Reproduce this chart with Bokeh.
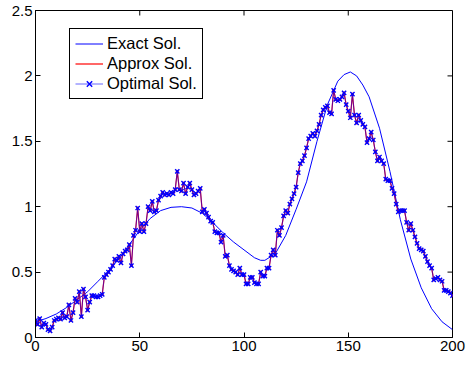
import math
from bokeh.plotting import figure
from bokeh.models import Legend, LegendItem, FixedTicker, Range1d, NumeralTickFormatter
from bokeh.embed import file_html
from bokeh.resources import INLINE

x_ticks = [0, 50, 100, 150, 200]
y_ticks = [0, 0.5, 1, 1.5, 2, 2.5]

x_exact = [0, 5, 10, 15, 20, 25, 30, 35, 40, 45, 50, 55, 60, 65, 70, 75, 80, 85, 90, 95,
           100, 105, 108, 110, 115, 120, 125, 130, 135, 140, 145, 148, 151, 154, 157,
           160, 165, 170, 175, 180, 185, 190, 195, 200]
y_exact = [0.12, 0.145, 0.18, 0.23, 0.29, 0.35, 0.43, 0.51, 0.60, 0.71, 0.82, 0.91, 0.97, 0.995,
           1.0, 0.99, 0.95, 0.88, 0.80, 0.73, 0.67, 0.61, 0.59, 0.59, 0.64, 0.78, 0.98, 1.19,
           1.50, 1.78, 1.96, 2.01, 2.03, 2.00, 1.93, 1.84, 1.60, 1.27, 0.90, 0.60, 0.38, 0.22,
           0.12, 0.06]

x_opt = list(range(201))
y_opt = [
    0.13, 0.10, 0.145, 0.08, 0.11, 0.10, 0.06, 0.05, 0.08, 0.13,
    0.14, 0.15, 0.14, 0.19, 0.15, 0.16, 0.25, 0.13, 0.19, 0.30,
    0.27, 0.35, 0.16, 0.37, 0.31, 0.21, 0.27, 0.32, 0.32, 0.31,
    0.31, 0.32, 0.33, 0.46, 0.48, 0.50, 0.52, 0.55, 0.60, 0.59,
    0.62, 0.57, 0.64, 0.66, 0.67, 0.71, 0.55, 0.78, 0.82, 0.99,
    0.81, 0.87, 0.81, 0.87, 1.00, 0.97, 1.04, 0.96, 0.97, 1.05,
    1.08, 1.11, 1.09, 1.10, 1.09, 1.11, 1.10, 1.13, 1.27, 1.13,
    1.12, 1.18, 1.10, 1.15, 1.18, 1.13, 1.09, 1.10, 1.12, 1.14,
    0.96, 0.98, 0.95, 0.92, 0.89, 0.88, 0.81, 0.80, 0.80, 0.73,
    0.78, 0.62, 0.63, 0.55, 0.52, 0.51, 0.50, 0.48, 0.53, 0.48,
    0.48, 0.41, 0.41, 0.46, 0.46, 0.42, 0.41, 0.41, 0.50, 0.47,
    0.47, 0.53, 0.53, 0.63, 0.67, 0.63, 0.82, 0.78, 0.84, 0.93,
    0.97, 0.95, 1.02, 1.06, 1.10, 1.15, 1.26, 1.33, 1.35, 1.39,
    1.45, 1.52, 1.54, 1.56, 1.54, 1.58, 1.63, 1.70, 1.74, 1.76,
    1.77, 1.72, 1.71, 1.89, 1.82, 1.81, 1.82, 1.84, 1.87, 1.78,
    1.73, 1.68, 1.86, 1.70, 1.64, 1.70, 1.66, 1.63, 1.61, 1.49,
    1.52, 1.57, 1.51, 1.42, 1.35, 1.38, 1.35, 1.33, 1.21, 1.20,
    1.20, 1.14, 1.10, 1.02, 0.96, 0.97, 0.97, 0.97, 0.88, 0.82,
    0.87, 0.82, 0.77, 0.72, 0.68, 0.67, 0.66, 0.62, 0.58, 0.55,
    0.53, 0.44, 0.45, 0.46, 0.44, 0.43, 0.36, 0.36, 0.35, 0.34,
    0.32]
y_approx = list(y_opt)

FONT = "Liberation Sans"

p = figure(width=468, height=366, x_range=Range1d(0, 200), y_range=Range1d(0, 2.5),
           output_backend="svg", toolbar_location=None,
           min_border_left=35, min_border_right=16, min_border_top=10, min_border_bottom=29)
p.xgrid.visible = False
p.ygrid.visible = False
p.outline_line_color = "black"
p.outline_line_alpha = 1
p.outline_line_width = 1
p.background_fill_color = "white"
p.border_fill_color = "white"

def style_axis(ax, ticks):
    ax.ticker = FixedTicker(ticks=ticks)
    ax.major_tick_in = 5
    ax.major_tick_out = 0
    ax.minor_tick_line_color = None
    ax.axis_line_color = "black"
    ax.major_tick_line_color = "black"
    ax.major_label_text_font = FONT
    ax.major_label_text_color = "black"
    ax.major_label_standoff = 3
    ax.major_label_text_font_size = "15px"
    ax.formatter = NumeralTickFormatter(format="0.[0]")

style_axis(p.xaxis[0], x_ticks)
style_axis(p.yaxis[0], y_ticks)

# inward tick marks on the top and right edges of the box
p.ray(x=x_ticks, y=[2.5] * len(x_ticks), length=5, length_units="screen",
      angle=-math.pi / 2, line_color="black", line_width=1)
p.ray(x=[200] * len(y_ticks), y=y_ticks, length=5, length_units="screen",
      angle=math.pi, line_color="black", line_width=1)

r_exact = p.line(x_exact, y_exact, line_color="#0000ff", line_width=1)
r_app_l = p.line(x_opt, y_approx, line_color="#ff0000", line_width=1.2)
p.scatter(x_opt, y_approx, marker="circle", size=2, fill_color="#ff0000",
          line_color="#ff0000")
r_opt_l = p.line(x_opt, y_opt, line_color="#0000ff", line_width=1, line_alpha=0.6)
r_opt_m = p.scatter(x_opt, y_opt, marker="x", size=6, line_color="#0000ff", line_width=1.4)

legend = Legend(items=[
    LegendItem(label="Exact Sol.", renderers=[r_exact]),
    LegendItem(label="Approx Sol.", renderers=[r_app_l]),
    LegendItem(label="Optimal Sol.", renderers=[r_opt_l, r_opt_m]),
], location=(34, 238))
legend.border_line_color = "black"
legend.border_line_width = 1
legend.border_line_alpha = 1
legend.background_fill_color = "white"
legend.background_fill_alpha = 1
legend.label_text_font = FONT
legend.label_text_font_size = "16.5px"
legend.label_text_color = "black"
legend.glyph_width = 28
legend.glyph_height = 19
legend.label_height = 19
legend.label_standoff = 4
legend.padding = 5
legend.spacing = 1
legend.margin = 0
p.add_layout(legend, "center")

open("out.html", "w").write(file_html(p, INLINE))
